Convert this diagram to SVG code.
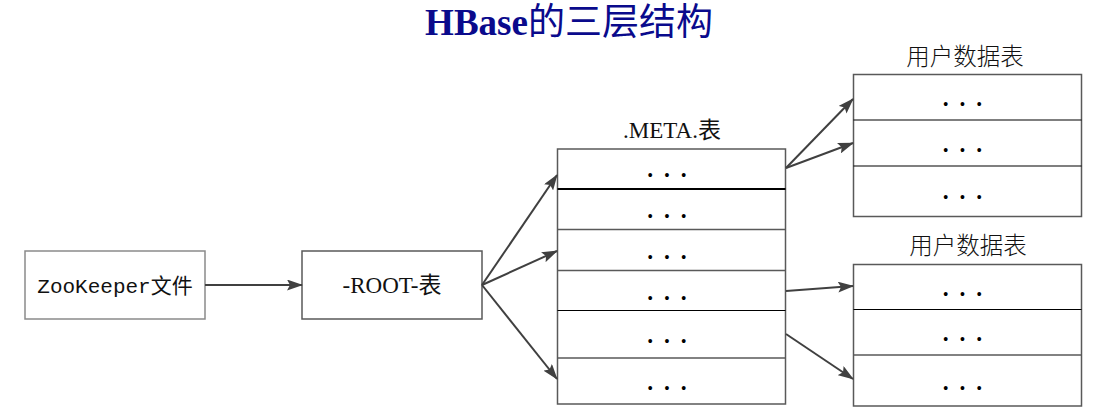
<svg xmlns="http://www.w3.org/2000/svg" width="1102" height="416" viewBox="0 0 1102 416">
<defs>
<style>
.box{fill:#fff;stroke:#595959;stroke-width:1.5}
.lbox{fill:#fff;stroke:#8a8a8a;stroke-width:1.5}
.sep{stroke:#595959;stroke-width:1.5}
.sepk{stroke:#000;stroke-width:1.2}
.sepb{stroke:#000;stroke-width:2}
.serif{font-family:"Liberation Serif","Noto Sans CJK SC",serif;font-size:23px;fill:#111}
.cjk{font-family:"Noto Sans CJK SC","Liberation Sans",sans-serif;font-size:23.5px;fill:#111;font-weight:300}
.dots{font-family:"Liberation Sans",sans-serif;font-size:14px;fill:#000;word-spacing:7.9px}
.conn{stroke:#404040;stroke-width:2;fill:none;marker-end:url(#ah)}
</style>
<marker id="ah" viewBox="0 0 16 11" refX="15" refY="5.5" markerWidth="16" markerHeight="11" markerUnits="userSpaceOnUse" orient="auto">
<path d="M0,0 L16,5.5 L0,11 L3,5.5 Z" fill="#404040"/>
</marker>
</defs>
<rect width="1102" height="416" fill="#fff"/>

<text x="569" y="35" text-anchor="middle" font-family="Liberation Serif,'Noto Sans CJK SC',serif" font-size="37" fill="#0a0a8c"><tspan font-weight="bold">HBase</tspan><tspan font-weight="400">的三层结构</tspan></text>

<g id="zookeeper">
<rect class="lbox" x="25" y="251" width="180" height="68"/>
<text x="115" y="293" text-anchor="middle" font-family="'Liberation Mono','Noto Sans CJK SC',monospace" font-size="21" fill="#111">ZooKeeper文件</text>
</g>

<g id="root">
<rect class="box" x="302" y="251" width="180" height="68"/>
<text class="serif" x="392" y="293" text-anchor="middle">-ROOT-表</text>
</g>

<g id="meta">
<text class="serif" x="672" y="138" text-anchor="middle">.META.表</text>
<rect class="box" x="557.5" y="149" width="228" height="255" stroke="#404040"/>
<line class="sepb" x1="557.5" y1="189" x2="785.5" y2="189"/>
<line class="sep" x1="557.5" y1="229.5" x2="785.5" y2="229.5"/>
<line class="sep" x1="557.5" y1="270.5" x2="785.5" y2="270.5"/>
<line class="sepk" x1="557.5" y1="310.5" x2="785.5" y2="310.5"/>
<line class="sep" x1="557.5" y1="358" x2="785.5" y2="358"/>
<text class="dots" x="667" y="180" text-anchor="middle">• • •</text>
<text class="dots" x="667" y="221" text-anchor="middle">• • •</text>
<text class="dots" x="667" y="262" text-anchor="middle">• • •</text>
<text class="dots" x="667" y="303" text-anchor="middle">• • •</text>
<text class="dots" x="667" y="346" text-anchor="middle">• • •</text>
<text class="dots" x="667" y="393" text-anchor="middle">• • •</text>
</g>

<g id="user1">
<text class="cjk" x="965" y="65" text-anchor="middle">用户数据表</text>
<rect class="box" x="853.5" y="74.5" width="228" height="142"/>
<line class="sepk" x1="853.5" y1="120" x2="1081.5" y2="120"/>
<line class="sepk" x1="853.5" y1="166" x2="1081.5" y2="166"/>
<text class="dots" x="962.5" y="109" text-anchor="middle">• • •</text>
<text class="dots" x="962.5" y="155" text-anchor="middle">• • •</text>
<text class="dots" x="962.5" y="202" text-anchor="middle">• • •</text>
</g>

<g id="user2">
<text class="cjk" x="968" y="254" text-anchor="middle">用户数据表</text>
<rect class="box" x="853.5" y="264.5" width="228" height="141.5"/>
<line class="sepk" x1="853.5" y1="309.5" x2="1081.5" y2="309.5"/>
<line class="sep" x1="853.5" y1="355" x2="1081.5" y2="355"/>
<text class="dots" x="962.5" y="299" text-anchor="middle">• • •</text>
<text class="dots" x="962.5" y="344" text-anchor="middle">• • •</text>
<text class="dots" x="962.5" y="393" text-anchor="middle">• • •</text>
</g>

<g id="connectors">
<line class="conn" x1="205" y1="285" x2="302" y2="285"/>
<line class="conn" x1="482" y1="285" x2="557" y2="175"/>
<line class="conn" x1="482" y1="285" x2="557" y2="251"/>
<line class="conn" x1="482" y1="285" x2="557" y2="379"/>
<line class="conn" x1="786" y1="168" x2="853" y2="99"/>
<line class="conn" x1="786" y1="168" x2="853" y2="143"/>
<line class="conn" x1="786" y1="291" x2="853" y2="286"/>
<line class="conn" x1="786" y1="334" x2="853" y2="379"/>
</g>
</svg>
